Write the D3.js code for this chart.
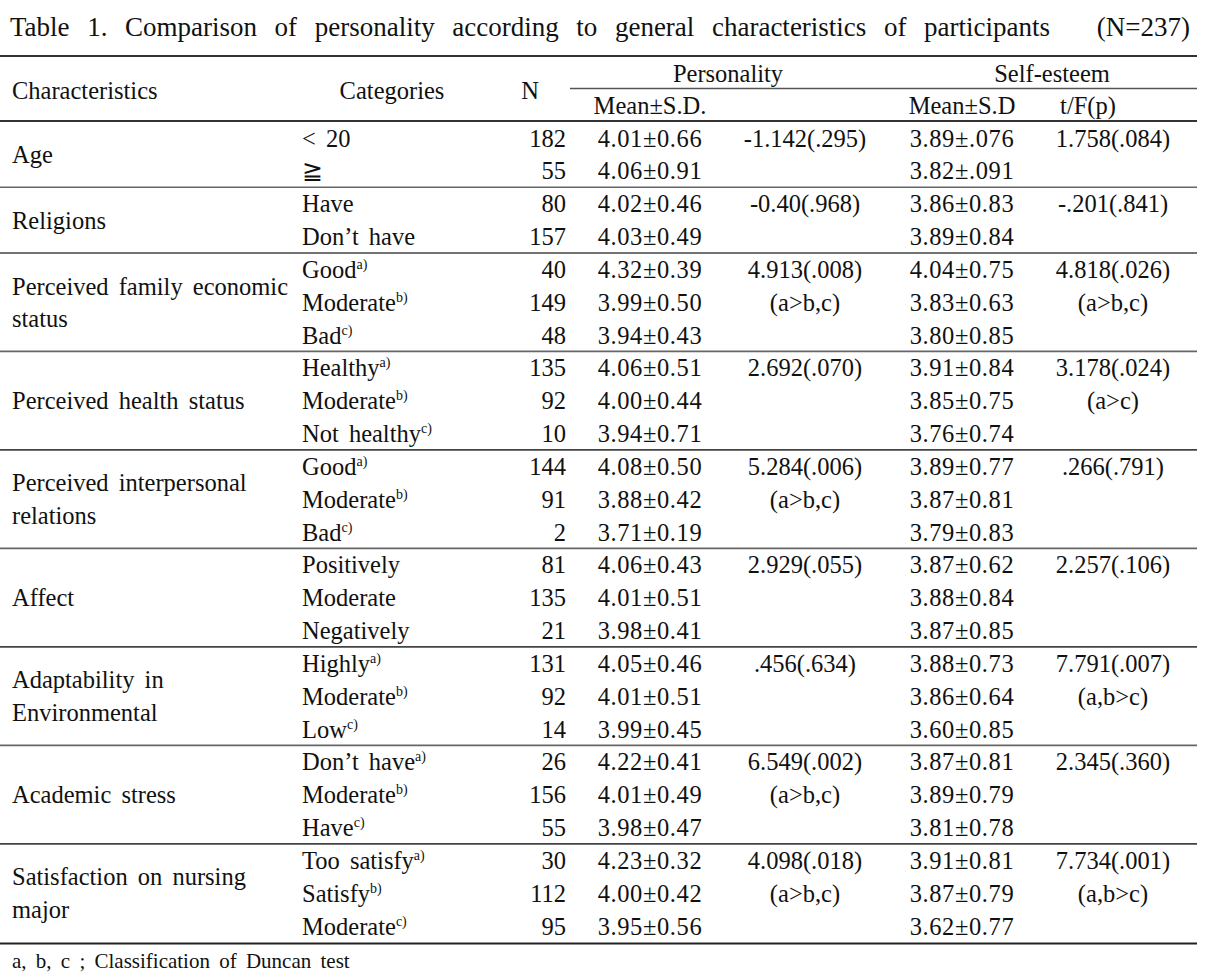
<!DOCTYPE html>
<html><head><meta charset="utf-8">
<script src="https://cdn.jsdelivr.net/npm/d3@7"></script>
<style>
body{margin:0;background:#fff}
text{font-family:"Liberation Serif","Times New Roman",serif;fill:#111}
</style></head>
<body><svg id="c"></svg>
<script>
const title = "Table 1. Comparison of personality according to general characteristics of participants";
const totalN = "(N=237)";
const footnote = "a, b, c ; Classification of Duncan test";
const groupLabels = [["Age"],["Religions"],["Perceived family economic","status"],["Perceived health status"],
  ["Perceived interpersonal","relations"],["Affect"],["Adaptability in","Environmental"],["Academic stress"],
  ["Satisfaction on nursing","major"]];
const groupSizes = [2,2,3,3,3,3,3,3,3];
const categories = ["< 20","≧","Have","Don’t have","Good","Moderate","Bad","Healthy","Moderate","Not healthy",
  "Good","Moderate","Bad","Positively","Moderate","Negatively","Highly","Moderate","Low",
  "Don’t have","Moderate","Have","Too satisfy","Satisfy","Moderate"];
const catSup = ["","","","","a)","b)","c)","a)","b)","c)","a)","b)","c)","","","","a)","b)","c)","a)","b)","c)","a)","b)","c)"];
const nValues = [182,55,80,157,40,149,48,135,92,10,144,91,2,81,135,21,131,92,14,26,156,55,30,112,95];
const persMean = ["4.01±0.66","4.06±0.91","4.02±0.46","4.03±0.49","4.32±0.39","3.99±0.50","3.94±0.43",
  "4.06±0.51","4.00±0.44","3.94±0.71","4.08±0.50","3.88±0.42","3.71±0.19","4.06±0.43","4.01±0.51","3.98±0.41",
  "4.05±0.46","4.01±0.51","3.99±0.45","4.22±0.41","4.01±0.49","3.98±0.47","4.23±0.32","4.00±0.42","3.95±0.56"];
const persTest = ["-1.142(.295)","","-0.40(.968)","","4.913(.008)","(a>b,c)","","2.692(.070)","","",
  "5.284(.006)","(a>b,c)","","2.929(.055)","","",".456(.634)","","","6.549(.002)","(a>b,c)","","4.098(.018)","(a>b,c)",""];
const selfMean = ["3.89±.076","3.82±.091","3.86±0.83","3.89±0.84","4.04±0.75","3.83±0.63","3.80±0.85",
  "3.91±0.84","3.85±0.75","3.76±0.74","3.89±0.77","3.87±0.81","3.79±0.83","3.87±0.62","3.88±0.84","3.87±0.85",
  "3.88±0.73","3.86±0.64","3.60±0.85","3.87±0.81","3.89±0.79","3.81±0.78","3.91±0.81","3.87±0.79","3.62±0.77"];
const selfTest = ["1.758(.084)","","-.201(.841)","","4.818(.026)","(a>b,c)","","3.178(.024)","(a>c)","",
  ".266(.791)","","","2.257(.106)","","","7.791(.007)","(a,b>c)","","2.345(.360)","","","7.734(.001)","(a,b>c)",""];

const W = 1214, H = 979;
const svg = d3.select("#c").attr("width", W).attr("height", H);
svg.append("rect").attr("width", W).attr("height", H).attr("fill", "#fff");

const FS = 24.5;
const y = d3.scaleBand().domain(d3.range(categories.length)).range([121.6, 942.4]);
const col = {char: 12, cat: 302, n: 566, pm: 650, pt: 805, sm: 962, st: 1113};

// title
const t = svg.append("text").attr("x", 10).attr("y", 36).attr("font-size", 27).text(title);
const tw = t.node().getComputedTextLength();
const gaps = title.split(" ").length - 1;
t.attr("word-spacing", Math.max(0, (1040 - tw) / gaps));
svg.append("text").attr("x", 1190).attr("y", 36).attr("font-size", 27).attr("text-anchor", "end").text(totalN);

// rules
function hline(x1, x2, yy, w, c) {
  svg.append("line").attr("x1", x1).attr("x2", x2).attr("y1", yy).attr("y2", yy)
    .attr("stroke", c).attr("stroke-width", w);
}
hline(0, 1197, 56, 2.2, "#333");
hline(570, 1197, 88.5, 1.3, "#555");
hline(0, 1197, 121, 2.2, "#333");

// header
const hdr = svg.append("g").attr("font-size", FS);
function ht(x, yy, s, anchor) {
  return hdr.append("text").attr("x", x).attr("y", yy).attr("dy", "0.35em").attr("text-anchor", anchor).text(s);
}
ht(col.char, 90, "Characteristics", "start");
ht(392, 90, "Categories", "middle");
ht(530, 90, "N", "middle");
ht(728, 73, "Personality", "middle");
ht(1052, 73, "Self-esteem", "middle");
ht(col.pm, 105, "Mean±S.D.", "middle");
ht(col.sm, 105, "Mean±S.D", "middle");
ht(1088, 105, "t/F(p)", "middle");

// groups
let start = 0;
const groupStarts = groupSizes.map(s => { const v = start; start += s; return v; });
const body = svg.append("g").attr("font-size", FS).attr("word-spacing", 4);
groupLabels.forEach((lines, gi) => {
  const s = groupStarts[gi], n = groupSizes[gi];
  const cy = (y(s) + y(s + n - 1) + y.bandwidth()) / 2;
  const lh = 32.5;
  lines.forEach((ln, li) => {
    body.append("text").attr("x", col.char)
      .attr("y", cy + (li - (lines.length - 1) / 2) * lh).attr("dy", "0.35em").text(ln);
  });
  const yy = y(s) + n * y.step();
  if (gi < groupLabels.length - 1) hline(0, 1197, yy, 1.6, gi % 2 ? "#444" : "#666");
});
hline(0, 1197, 943.5, 2.2, "#222");

// rows
const rows = body.selectAll("g.row").data(d3.range(categories.length)).join("g").attr("class", "row")
  .attr("transform", i => `translate(0,${y(i) + y.bandwidth() / 2})`);
const cat = rows.append("text").attr("x", col.cat).attr("dy", "0.35em");
cat.append("tspan").text(i => categories[i]);
cat.filter(i => catSup[i]).append("tspan").attr("font-size", 14).attr("dy", -9).text(i => catSup[i]);
rows.append("text").attr("x", col.n).attr("dy", "0.35em").attr("text-anchor", "end").text(i => nValues[i]);
rows.append("text").attr("x", col.pm).attr("dy", "0.35em").attr("text-anchor", "middle")
  .attr("letter-spacing", 0.6).text(i => persMean[i]);
rows.append("text").attr("x", col.pt).attr("dy", "0.35em").attr("text-anchor", "middle").text(i => persTest[i]);
rows.append("text").attr("x", col.sm).attr("dy", "0.35em").attr("text-anchor", "middle")
  .attr("letter-spacing", 0.6).text(i => selfMean[i]);
rows.append("text").attr("x", col.st).attr("dy", "0.35em").attr("text-anchor", "middle").text(i => selfTest[i]);

svg.append("text").attr("x", 12).attr("y", 961).attr("dy", "0.35em").attr("font-size", 21)
  .attr("word-spacing", 4).text(footnote);
</script></body></html>
